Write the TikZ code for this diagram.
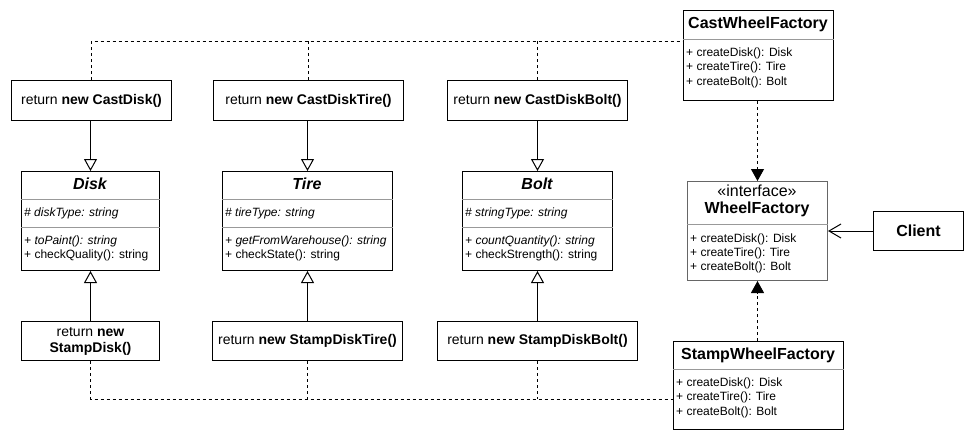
\documentclass[tikz,border=0pt]{standalone}
\usepackage{fontspec}
\setmainfont{Liberation Sans}
\usetikzlibrary{arrows.meta,calc}
\begin{document}
\begin{tikzpicture}[x=1pt,y=-1pt,
  box/.style={draw,line width=1pt,inner sep=0pt,anchor=north west,align=center,
    font=\fontsize{14}{16}\selectfont},
  gbox/.style={box,draw=black!60},
  ttl/.style={inner sep=0pt,font=\fontsize{16}{18}\selectfont\bfseries},
  itl/.style={inner sep=0pt,font=\fontsize{16}{18}\selectfont\bfseries\itshape},
  stereo/.style={inner sep=0pt,font=\fontsize{16}{18}\selectfont},
  mt/.style={inner sep=0pt,anchor=west,font=\fontsize{12}{14}\selectfont},
  mti/.style={mt,font=\fontsize{12}{14}\selectfont\itshape},
  div/.style={draw=black!40,line width=1pt},
  gen/.style={line width=1pt,-{Triangle[open,length=12pt,width=13pt,fill=white]}},
  real/.style={line width=1pt,dash pattern=on 3pt off 3pt,-{Triangle[length=12pt,width=13pt]}},
  dep/.style={line width=1pt,dash pattern=on 3pt off 3pt},
  assoc/.style={line width=1pt,-{Straight Barb[length=12pt,width=14pt]}}]
\useasboundingbox (0,0) rectangle (973,442);

% ---- factory method boxes (cast)
\node[box,minimum width=160pt,minimum height=40pt] (cd) at (11,80) {return \textbf{new CastDisk()}};
\node[box,minimum width=190pt,minimum height=40pt] (cdt) at (213,80) {return \textbf{new CastDiskTire()}};
\node[box,minimum width=180pt,minimum height=40pt] (cdb) at (447,80) {return \textbf{new CastDiskBolt()}};

% ---- factory method boxes (stamp)
\node[box,minimum width=138pt,minimum height=39pt] (sd) at (21,321) {return \textbf{new}\\\textbf{StampDisk()}};
\node[box,minimum width=190pt,minimum height=39pt] (sdt) at (212,321) {return \textbf{new StampDiskTire()}};
\node[box,minimum width=200pt,minimum height=39pt] (sdb) at (437,321) {return \textbf{new StampDiskBolt()}};

% ---- Disk
\node[box,minimum width=138pt,minimum height=99pt] (disk) at (21,171) {};
\node[itl] (diskT) at (90,184) {Disk};
\draw[div] (disk.west |- 0,199) -- (disk.east |- 0,199);
\node[mti] (diskA) at (24,213) {\# diskType: string};
\draw[div] (disk.west |- 0,227) -- (disk.east |- 0,227);
\node[mti] (diskM1) at (24,241) {+ toPaint(): string};
\node[mt] (diskM2) at (24,255) {+ checkQuality(): string};

% ---- Tire
\node[box,minimum width=170pt,minimum height=99pt] (tire) at (222,171) {};
\node[itl] (tireT) at (307,184) {Tire};
\draw[div] (tire.west |- 0,199) -- (tire.east |- 0,199);
\node[mti] (tireA) at (225,213) {\# tireType: string};
\draw[div] (tire.west |- 0,227) -- (tire.east |- 0,227);
\node[mti] (tireM1) at (225,241) {+ getFromWarehouse(): string};
\node[mt] (tireM2) at (225,255) {+ checkState(): string};

% ---- Bolt
\node[box,minimum width=150pt,minimum height=99pt] (bolt) at (462,171) {};
\node[itl] (boltT) at (537,184) {Bolt};
\draw[div] (bolt.west |- 0,199) -- (bolt.east |- 0,199);
\node[mti] (boltA) at (465,213) {\# stringType: string};
\draw[div] (bolt.west |- 0,227) -- (bolt.east |- 0,227);
\node[mti] (boltM1) at (465,241) {+ countQuantity(): string};
\node[mt] (boltM2) at (465,255) {+ checkStrength(): string};

% ---- CastWheelFactory
\node[box,minimum width=150pt,minimum height=90pt] (cwf) at (683,10) {};
\node[ttl] (cwfT) at (758,24) {CastWheelFactory};
\draw[div] (cwf.west |- 0,39) -- (cwf.east |- 0,39);
\node[mt] (cwf1) at (686,53) {+ createDisk(): Disk};
\node[mt] (cwf2) at (686,67.5) {+ createTire(): Tire};
\node[mt] (cwf3) at (686,82) {+ createBolt(): Bolt};

% ---- WheelFactory (interface)
\node[gbox,minimum width=140pt,minimum height=99pt] (wf) at (687,181) {};
\node[stereo] (wfS) at (757,191) {«interface»};
\node[ttl] (wfT) at (757,209) {WheelFactory};
\draw[div] (wf.west |- 0,224) -- (wf.east |- 0,224);
\node[mt] (wf1) at (690,239) {+ createDisk(): Disk};
\node[mt] (wf2) at (690,253) {+ createTire(): Tire};
\node[mt] (wf3) at (690,267) {+ createBolt(): Bolt};

% ---- StampWheelFactory
\node[box,minimum width=170pt,minimum height=88pt] (swf) at (673,341) {};
\node[ttl] (swfT) at (758,355) {StampWheelFactory};
\draw[div] (swf.west |- 0,369) -- (swf.east |- 0,369);
\node[mt] (swf1) at (676,383) {+ createDisk(): Disk};
\node[mt] (swf2) at (676,397.5) {+ createTire(): Tire};
\node[mt] (swf3) at (676,412) {+ createBolt(): Bolt};

% ---- Client
\node[box,minimum width=90pt,minimum height=39pt,font=\fontsize{16}{18}\selectfont\bfseries] (client) at (873,211) {Client};

% ---- generalizations
\draw[gen] (disk.north |- cd.south) -- (disk.north);
\draw[gen] (tire.north |- cdt.south) -- (tire.north);
\draw[gen] (bolt.north |- cdb.south) -- (bolt.north);
\draw[gen] (disk.south |- sd.north) -- (disk.south);
\draw[gen] (tire.south |- sdt.north) -- (tire.south);
\draw[gen] (bolt.south |- sdb.north) -- (bolt.south);

% ---- realizations
\draw[real] (wf.north |- cwf.south) -- (wf.north);
\draw[real] (wf.south |- swf.north) -- (wf.south);

% ---- association
\draw[assoc] (client.west) -- (wf.east |- client.west);

% ---- dependency lines
\draw[dep] (cd.north) |- (cwf.west |- 0,41);
\draw[dep] (cdt.north) -- (cdt.north |- 0,41);
\draw[dep] (cdb.north) -- (cdb.north |- 0,41);
\draw[dep] (sd.south) |- (swf.west |- 0,399);
\draw[dep] (sdt.south) -- (sdt.south |- 0,399);
\draw[dep] (sdb.south) -- (sdb.south |- 0,399);
\end{tikzpicture}
\end{document}
